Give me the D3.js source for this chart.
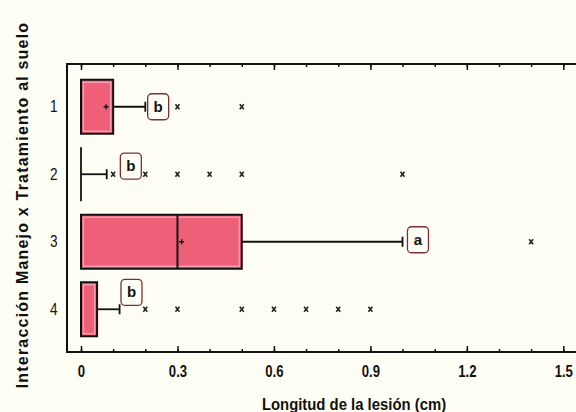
<!DOCTYPE html>
<html><head><meta charset="utf-8">
<script src="https://cdn.jsdelivr.net/npm/d3@7"></script>
<style>
html,body{margin:0;padding:0;background:#fefef4;}
svg{display:block;}
text{font-family:"Liberation Sans",Arial,sans-serif;}
</style></head>
<body>
<script>
// ---- data ----
const groups = ["1","2","3","4"];
const q1 = [0, 0, 0, 0];
const median = [0, 0, 0.3, 0];
const q3 = [0.1, 0, 0.5, 0.05];
const whiskerHigh = [0.2, 0.08, 1.0, 0.12];
const means = [0.078, null, 0.313, null];
const outliers = [
  [0.3, 0.5],
  [0.1, 0.2, 0.3, 0.4, 0.5, 1.0],
  [1.4],
  [0.2, 0.3, 0.5, 0.6, 0.7, 0.8, 0.9]
];
const letters = ["b", "b", "a", "b"];
const letterX = [0.24, 0.155, 1.048, 0.157];
const letterShift = [0, -0.12, -0.03, -0.25]; // fraction of row step
const xTicks = [0, 0.3, 0.6, 0.9, 1.2, 1.5];
const xMinorTicks = d3.range(0, 1.55, 0.1);
const xTitle = "Longitud de la lesión (cm)";
const yTitle = "Interacción Manejo x Tratamiento al suelo";

const W = 576, H = 412;
const svg = d3.select("body").append("svg").attr("width", W).attr("height", H);
svg.append("rect").attr("width", W).attr("height", H).attr("fill", "#fefef4");

const frame = {left: 67, top: 64, bottom: 352, right: 590};
const x = d3.scaleLinear().domain([0, 1.5]).range([81, 563.3]);
const y = d3.scalePoint().domain(groups).range([frame.top, frame.bottom]).padding(0.633);
const step = y.step();
const boxH = step * 0.8;

// minor & major ticks bottom (inside)
const gB = svg.append("g").attr("transform", `translate(0,${frame.bottom})`);
gB.call(d3.axisBottom(x).tickValues(xMinorTicks).tickSizeInner(-3).tickSizeOuter(0).tickFormat(""));
gB.call(g => g.select(".domain").remove());
const gB2 = svg.append("g").attr("transform", `translate(0,${frame.bottom})`);
gB2.call(d3.axisBottom(x).tickValues(xTicks).tickSizeInner(-6).tickSizeOuter(0).tickPadding(14)
  .tickFormat(d => d === 0 ? "0" : d3.format(".1f")(d)));
gB2.select(".domain").remove();
gB2.selectAll("text").attr("font-size", 16).attr("font-weight", "bold").attr("fill", "#111")
  .attr("transform", "scale(0.82,1)");

const gT = svg.append("g").attr("transform", `translate(0,${frame.top})`);
gT.call(d3.axisTop(x).tickValues(xMinorTicks).tickSizeInner(-3).tickSizeOuter(0).tickFormat(""));
gT.select(".domain").remove();
const gT2 = svg.append("g").attr("transform", `translate(0,${frame.top})`);
gT2.call(d3.axisTop(x).tickValues(xTicks).tickSizeInner(-6).tickSizeOuter(0).tickFormat(""));
gT2.select(".domain").remove();
svg.selectAll(".tick line").attr("stroke", "#111").attr("stroke-width", 1.5);

// frame
svg.append("path")
  .attr("d", `M${frame.right},${frame.top}H${frame.left}V${frame.bottom}H${frame.right}`)
  .attr("fill", "none").attr("stroke", "#111").attr("stroke-width", 2);

// y axis labels
const gL = svg.append("g").attr("transform", `translate(${frame.left},0)`);
gL.call(d3.axisLeft(y).tickSize(0).tickPadding(11));
gL.select(".domain").remove();
gL.selectAll("text").attr("font-size", 16).attr("fill", "#111").attr("transform", "scale(0.85,1)");

// boxes
groups.forEach((gname, i) => {
  const cy = y(gname);
  const g = svg.append("g");
  // whisker
  g.append("line").attr("x1", x(q3[i])).attr("x2", x(whiskerHigh[i]))
    .attr("y1", cy).attr("y2", cy).attr("stroke", "#111").attr("stroke-width", 1.8);
  g.append("line").attr("x1", x(whiskerHigh[i])).attr("x2", x(whiskerHigh[i]))
    .attr("y1", cy - 5).attr("y2", cy + 5).attr("stroke", "#111").attr("stroke-width", 1.8);
  const bw = x(q3[i]) - x(q1[i]);
  if (bw > 0.5) {
    g.append("rect").attr("x", x(q1[i])).attr("y", cy - boxH / 2)
      .attr("width", bw).attr("height", boxH)
      .attr("fill", "#ee6078").attr("stroke", "#111").attr("stroke-width", 2);
    g.append("rect").attr("x", x(q1[i]) + 2.5).attr("y", cy - boxH / 2 + 2.5)
      .attr("width", Math.max(0, bw - 5)).attr("height", boxH - 5)
      .attr("fill", "none").attr("stroke", "#f6aab6").attr("stroke-width", 1.2);
  } else {
    g.append("line").attr("x1", x(q1[i])).attr("x2", x(q1[i]))
      .attr("y1", cy - boxH / 2).attr("y2", cy + boxH / 2).attr("stroke", "#111").attr("stroke-width", 1.8);
  }
  if (median[i] > q1[i]) {
    g.append("line").attr("x1", x(median[i])).attr("x2", x(median[i]))
      .attr("y1", cy - boxH / 2).attr("y2", cy + boxH / 2).attr("stroke", "#111").attr("stroke-width", 2);
  }
  if (means[i] != null) {
    g.append("path").attr("d", `M${x(means[i]) - 2.5},${cy}h5M${x(means[i])},${cy - 2.5}v5`)
      .attr("stroke", "#111").attr("stroke-width", 1.4);
  }
  // outliers
  outliers[i].forEach(v => {
    g.append("path").attr("d", `M${x(v) - 2},${cy - 2.5}l4,5M${x(v) + 2},${cy - 2.5}l-4,5`)
      .attr("stroke", "#222").attr("stroke-width", 1.6);
  });
  // letter labels
  const lx = x(letterX[i]), ly = cy + letterShift[i] * step;
  g.append("rect").attr("x", lx - 10.5).attr("y", ly - 13).attr("width", 21).attr("height", 26)
    .attr("rx", 4).attr("fill", "#fefef4").attr("stroke", "#7a3030").attr("stroke-width", 1.3);
  g.append("text").attr("x", lx).attr("y", ly + 5).attr("text-anchor", "middle")
    .attr("font-size", 15).attr("font-weight", "bold").attr("fill", "#111").text(letters[i]);
});

// titles
svg.append("text").attr("x", 354).attr("y", 410).attr("text-anchor", "middle")
  .attr("font-size", 16).attr("font-weight", "bold").attr("fill", "#111")
  .attr("transform", "translate(354,0) scale(0.93,1) translate(-354,0)").text(xTitle);
svg.append("text").attr("transform", "translate(28,205) rotate(-90)").attr("text-anchor", "middle")
  .attr("font-size", 16).attr("font-weight", "bold").attr("letter-spacing", 1.2).attr("fill", "#111")
  .text(yTitle);
</script>
</body></html>
